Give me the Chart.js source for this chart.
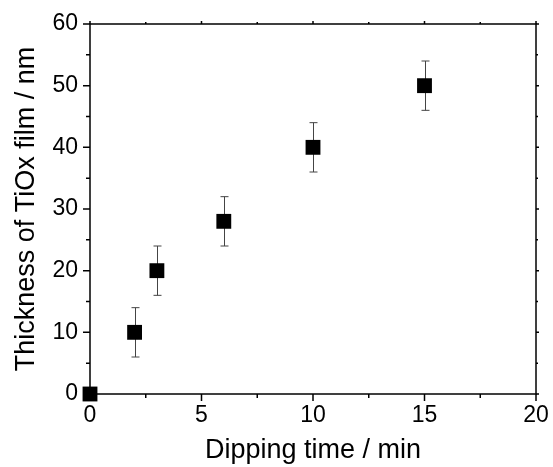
<!DOCTYPE html>
<html>
<head>
<meta charset="utf-8">
<script src="https://cdn.jsdelivr.net/npm/chart.js@4"></script>
<style>
  html, body { margin: 0; padding: 0; background: #fff; }
  #wrap { width: 553px; height: 467px; }
</style>
</head>
<body>
<div id="wrap"><canvas id="thicknessChart" width="553" height="467"></canvas></div>
<script>
// datos
const dippingTimes = [0, 2, 3, 6, 10, 15];
const thickness = [0, 10, 20, 28, 40, 50];
const thicknessErr = [0, 4, 4, 4, 4, 4];
const xMajorTicks = [0, 5, 10, 15, 20];
const xMinorTicks = [2.5, 7.5, 12.5, 17.5];
const yMajorTicks = [0, 10, 20, 30, 40, 50, 60];
const yMinorTicks = [5, 15, 25, 35, 45, 55];

const FONT = "'Liberation Sans', Arial, sans-serif";

// barras de error + marcas de los ejes
const errorBarsPlugin = {
  id: "errorBars",
  beforeDatasetsDraw(chart) {
    const { ctx, scales: { x, y } } = chart;
    ctx.save();
    ctx.strokeStyle = "#444";
    ctx.lineWidth = 1;
    dippingTimes.forEach((t, i) => {
      const err = thicknessErr[i];
      if (!err) return;
      const px = Math.round(x.getPixelForValue(t)) + 0.5;
      const top = y.getPixelForValue(thickness[i] + err);
      const bot = y.getPixelForValue(thickness[i] - err);
      ctx.beginPath();
      ctx.moveTo(px, top); ctx.lineTo(px, bot);
      ctx.moveTo(px - 4, top); ctx.lineTo(px + 4, top);
      ctx.moveTo(px - 4, bot); ctx.lineTo(px + 4, bot);
      ctx.stroke();
    });
    ctx.restore();
  },
  afterDraw(chart) {
    const { ctx, chartArea: a, scales: { x, y } } = chart;
    ctx.save();
    ctx.strokeStyle = "#000";
    ctx.lineWidth = 1.5;
    ctx.strokeRect(a.left, a.top, a.right - a.left, a.bottom - a.top);
    ctx.beginPath();
    const tickX = (v, len, topLen) => {
      const px = x.getPixelForValue(v);
      ctx.moveTo(px, a.bottom); ctx.lineTo(px, a.bottom + len);
      ctx.moveTo(px, a.top); ctx.lineTo(px, a.top - topLen);
    };
    const tickY = (v, len, rightLen) => {
      const py = y.getPixelForValue(v);
      ctx.moveTo(a.left, py); ctx.lineTo(a.left - len, py);
      ctx.moveTo(a.right, py); ctx.lineTo(a.right + rightLen, py);
    };
    xMajorTicks.forEach(v => tickX(v, 7, 3));
    xMinorTicks.forEach(v => tickX(v, 4, 2));
    yMajorTicks.forEach(v => tickY(v, 7, 3));
    yMinorTicks.forEach(v => tickY(v, 4, 2));
    ctx.stroke();
    ctx.restore();
  }
};

const ctx = document.getElementById("thicknessChart").getContext("2d");
new Chart(ctx, {
  type: "scatter",
  data: {
    datasets: [{
      label: "TiOx",
      data: dippingTimes.map((t, i) => ({ x: t, y: thickness[i] })),
      pointStyle: "rect",
      pointRadius: 10.5,
      pointHoverRadius: 10.5,
      backgroundColor: "#000",
      borderColor: "#000",
      borderWidth: 0,
      clip: false
    }]
  },
  options: {
    responsive: false,
    animation: false,
    layout: { padding: { top: 24, right: 17, left: 0, bottom: 0 } },
    plugins: {
      legend: { display: false },
      tooltip: { enabled: false }
    },
    scales: {
      x: {
        type: "linear",
        min: 0,
        max: 20,
        afterFit: (scale) => {
          scale.height = 73;
          scale.paddingLeft = 0;
          scale.paddingRight = 0;
        },
        afterBuildTicks: (scale) => { scale.ticks = xMajorTicks.map(v => ({ value: v })); },
        grid: { display: false, drawTicks: false },
        border: { display: false },
        ticks: {
          padding: 8,
          color: "#000",
          font: { family: FONT, size: 23 },
          maxRotation: 0
        },
        title: {
          display: true,
          text: "Dipping time / min",
          color: "#000",
          font: { family: FONT, size: 27 },
          padding: { top: 0, bottom: 0 }
        }
      },
      y: {
        type: "linear",
        min: 0,
        max: 60,
        afterFit: (scale) => {
          scale.width = 90;
          scale.paddingTop = 0;
          scale.paddingBottom = 0;
        },
        afterBuildTicks: (scale) => { scale.ticks = yMajorTicks.map(v => ({ value: v })); },
        grid: { display: false, drawTicks: false },
        border: { display: false },
        ticks: {
          padding: 12,
          color: "#000",
          font: { family: FONT, size: 23 }
        },
        title: {
          display: true,
          text: "Thickness of TiOx film / nm",
          color: "#000",
          font: { family: FONT, size: 27 },
          padding: { top: 10, bottom: 0 }
        }
      }
    }
  },
  plugins: [errorBarsPlugin]
});
</script>
</body>
</html>
